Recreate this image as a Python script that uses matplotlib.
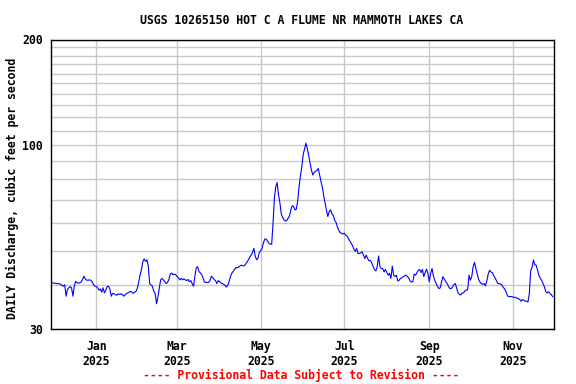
import matplotlib
matplotlib.use('Agg')
import matplotlib.pyplot as plt
import matplotlib.dates as mdates
from matplotlib.ticker import FixedLocator, NullFormatter, FuncFormatter
import pandas as pd

# daily mean discharge, cfs (starts 2024-11-29)
flow_dec_jan = [40.6, 40.6, 40.5, 40.5, 40.4, 40.4, 40.3, 40.3, 39.9, 39.7,
                40.1, 37.2, 38.9, 39.3, 39.6, 39.3, 37.2, 39.7, 41.0, 40.6,
                40.5, 40.6, 40.8, 41.5, 42.4, 41.7, 41.3, 41.3, 41.4, 41.3,
                40.9, 40.1, 39.7, 39.7, 39.3, 38.7, 39.0, 38.2, 39.3, 38.0,
                38.7, 39.6, 39.7, 38.9, 37.2, 37.9, 37.8, 37.6, 37.4, 37.8,
                37.6, 37.8, 37.6, 37.2, 37.5, 37.8, 38.0, 38.2, 38.4, 38.2,
                37.9, 38.2, 38.4, 39.2, 40.8, 42.8]
flow_feb_mar = [44.3, 46.7, 47.5, 46.7, 47.2, 45.2, 40.4, 40.0, 39.7, 38.5,
                37.8, 35.4, 37.0, 39.1, 41.4, 41.8, 41.4, 40.9, 40.4, 40.7,
                41.5, 43.0, 43.3, 42.8, 43.0, 42.8, 42.3, 42.0, 41.4, 41.8,
                41.4, 41.7, 41.4, 41.2, 41.5, 40.9, 41.2, 40.4, 39.7, 42.4,
                44.8, 45.1, 43.7, 43.3, 42.8, 41.8, 40.8, 40.7, 40.7, 40.7,
                41.2, 42.4, 42.0, 41.5, 41.2, 40.4, 41.2, 40.9, 40.6, 40.4,
                40.2]
flow_apr_may = [39.9, 39.5, 40.0, 41.0, 42.4, 43.3, 43.8, 44.4, 44.9, 44.8,
                45.0, 45.4, 45.6, 45.4, 45.4, 45.9, 46.5, 47.2, 48.0, 48.7,
                49.5, 50.9, 48.4, 47.2, 47.7, 49.5, 50.1, 50.9, 52.8, 54.1,
                54.1, 53.4, 52.6, 52.3, 52.3, 60.0, 70.8, 76.3, 78.3, 72.3,
                68.7, 63.7, 62.4, 61.3, 60.9, 61.0, 62.0, 62.9, 65.5, 67.3,
                67.0, 65.5, 65.8]
flow_jun_jul = [69.5, 76.3, 81.8, 87.0, 94.1, 97.8, 101.4, 97.8, 93.5, 89.0,
                85.1, 82.3, 83.6, 84.4, 84.8, 85.9, 82.3, 78.8, 76.0, 71.8,
                68.5, 65.2, 62.7, 64.8, 65.5, 63.8, 63.1, 61.1, 60.3, 58.5,
                57.2, 56.4, 56.2, 55.9, 56.2, 55.5, 55.2, 54.2, 53.5, 52.6,
                51.8, 50.6, 49.9, 50.9, 49.2, 49.2, 49.4, 49.8, 48.7, 47.6,
                48.7, 47.6, 46.9]
flow_aug_sep = [47.0, 46.3, 45.3, 44.3, 43.9, 45.1, 48.4, 45.1, 44.6, 44.6,
                43.6, 44.3, 43.5, 42.7, 43.2, 41.8, 45.3, 42.7, 42.3, 42.7,
                41.1, 41.3, 41.8, 42.0, 42.3, 42.5, 42.7, 42.3, 41.9, 41.1,
                40.8, 40.9, 43.0, 42.7, 43.4, 44.1, 44.3, 43.4, 44.3, 42.3,
                43.4, 44.4, 43.2, 40.9, 43.2, 44.6, 42.5, 41.3, 40.4, 39.7,
                39.1, 39.3, 40.9, 42.3, 41.6, 41.0, 40.4, 39.7, 39.1, 39.1,
                39.5]
flow_oct_nov = [40.2, 40.4, 39.2, 38.0, 37.6, 37.5, 38.0, 38.0, 38.5, 38.7,
                38.8, 42.7, 41.3, 42.3, 45.1, 46.4, 44.6, 43.0, 41.5, 40.8,
                40.4, 40.2, 40.4, 39.8, 41.2, 43.0, 44.1, 43.6, 43.4, 42.6,
                41.9, 41.2, 40.4, 40.4, 40.3, 40.0, 39.4, 39.0, 38.3, 37.3,
                37.1, 37.1, 37.1, 37.0, 36.9, 36.9, 36.7, 36.6, 36.4, 36.0,
                36.4, 36.2, 36.0, 36.0, 35.8, 37.9, 44.0, 44.9, 47.2, 45.6,
                45.6, 44.1, 42.6, 41.8, 41.3, 40.4, 39.6, 38.3, 38.0, 38.3,
                37.9, 37.6, 37.1]

flow = flow_dec_jan + flow_feb_mar + flow_apr_may + flow_jun_jul + flow_aug_sep + flow_oct_nov
dates = pd.date_range('2024-11-29', periods=len(flow), freq='D')

y_major = [30, 100, 200]
y_minor = [40, 50, 60, 70, 80, 90, 110, 120, 130, 140, 150, 160, 170, 180, 190]

title = 'USGS 10265150 HOT C A FLUME NR MAMMOTH LAKES CA'
ylabel = 'DAILY Discharge, cubic feet per second'
footer = '---- Provisional Data Subject to Revision ----'

plt.rcParams['font.family'] = 'DejaVu Sans Mono'
plt.rcParams['font.weight'] = 'bold'
plt.rcParams['font.size'] = 8.3

fig = plt.figure(figsize=(5.76, 3.84), dpi=100)
ax = fig.add_axes([51 / 576, 1 - 329 / 384, 503 / 576, 289.5 / 384])

ax.plot(dates, flow, color='#0000ff', lw=0.8)

ax.set_yscale('log')
ax.set_ylim(30, 200)
ax.yaxis.set_major_locator(FixedLocator(y_major))
ax.yaxis.set_major_formatter(FuncFormatter(lambda v, p: '%d' % v))
ax.yaxis.set_minor_locator(FixedLocator(y_minor))
ax.yaxis.set_minor_formatter(NullFormatter())

ax.set_xlim(pd.Timestamp('2024-11-29'), pd.Timestamp('2025-12-01'))
ax.xaxis.set_major_locator(mdates.MonthLocator(bymonth=[1, 3, 5, 7, 9, 11]))
ax.xaxis.set_major_formatter(mdates.DateFormatter('%b\n%Y'))

ax.grid(which='both', axis='y', color='#c8c8c8', lw=1)
ax.grid(which='major', axis='x', color='#c8c8c8', lw=1)
ax.set_axisbelow(True)
ax.tick_params(which='both', length=0)
ax.tick_params(axis='y', pad=6)
ax.tick_params(axis='x', pad=8)
for s in ax.spines.values():
    s.set_linewidth(1)
    s.set_color('black')

fig.text(302 / 576, 1 - 20 / 384, title, ha='center', va='center')
fig.text(12.5 / 576, 1 - 188 / 384, ylabel, rotation=90, ha='center', va='center')
fig.text(301 / 576, 1 - 375 / 384, footer, ha='center', va='center', color='red')

plt.savefig('out.png', dpi=100)
